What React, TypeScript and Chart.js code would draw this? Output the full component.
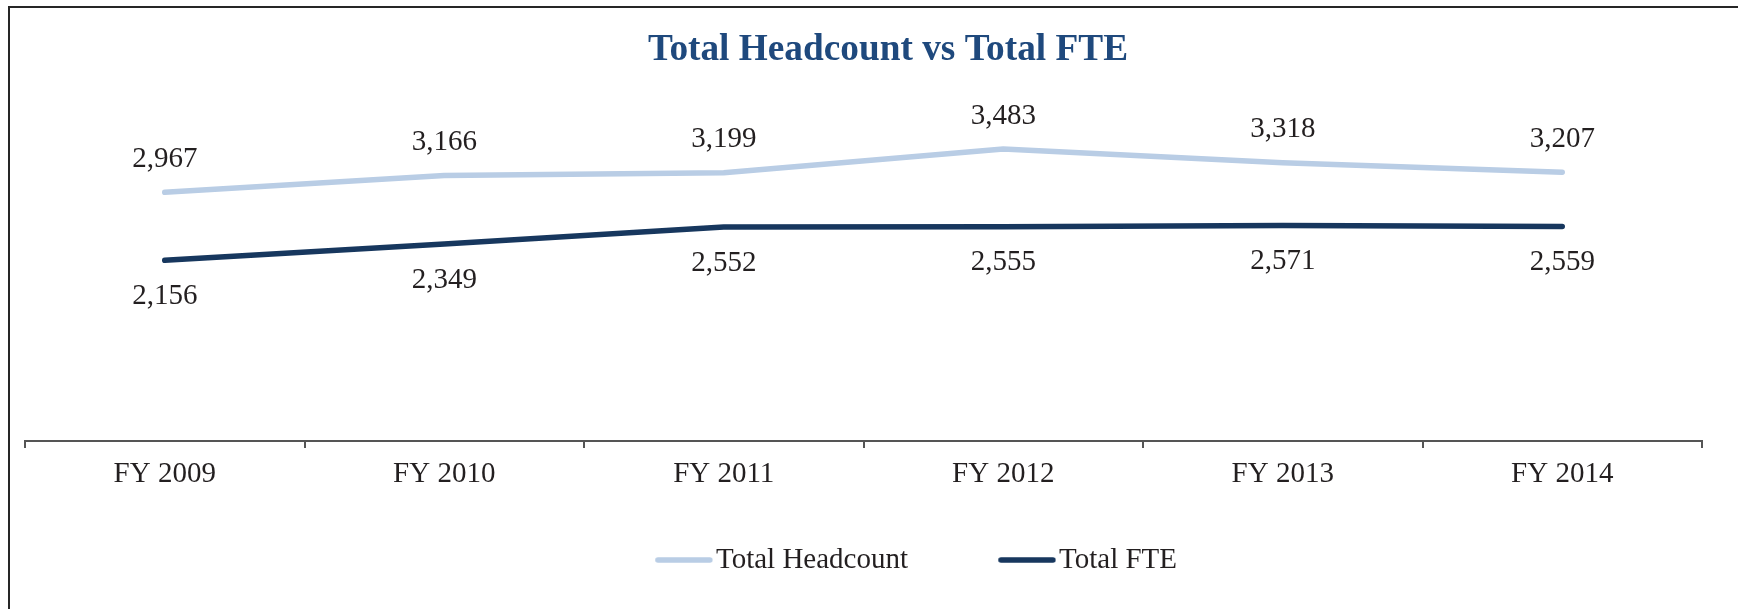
import React, { useEffect, useRef } from "react";
import { Chart, registerables } from "chart.js";

Chart.register(...registerables);

const categories = ["FY 2009", "FY 2010", "FY 2011", "FY 2012", "FY 2013", "FY 2014"];
const headcount = [2967, 3166, 3199, 3483, 3318, 3207];
const fte = [2156, 2349, 2552, 2555, 2571, 2559];
const seriesNames = ["Total Headcount", "Total FTE"];
const seriesColors = ["#B9CDE5", "#17375E"];
const titleText = "Total Headcount vs Total FTE";
const yMin = 0;
const yMax = 4000;

const FONT = "'Liberation Serif', 'Times New Roman', Times, serif";
const TEXT = "#231F20";
const AXIS = "#555555";
const LABEL_OFFSETS = [-33, 36];

function makeLegendLine(color: string): HTMLCanvasElement {
  const c = document.createElement("canvas");
  c.width = 126;
  c.height = 10;
  const g = c.getContext("2d")!;
  g.strokeStyle = color;
  g.lineWidth = 5.5;
  g.lineCap = "round";
  g.beginPath();
  g.moveTo(70.7, 5);
  g.lineTo(122.7, 5);
  g.stroke();
  return c;
}

const valueLabels = {
  id: "valueLabels",
  afterDatasetsDraw(chart: any) {
    const ctx = chart.ctx;
    ctx.save();
    ctx.font = `29px ${FONT}`;
    ctx.fillStyle = TEXT;
    ctx.textAlign = "center";
    ctx.textBaseline = "middle";
    chart.data.datasets.forEach((ds: any, di: number) => {
      const meta = chart.getDatasetMeta(di);
      meta.data.forEach((pt: any, i: number) => {
        ctx.fillText(Number(ds.data[i]).toLocaleString("en-US"), pt.x, pt.y + LABEL_OFFSETS[di]);
      });
    });
    ctx.restore();
  },
};

export default function App() {
  const ref = useRef<HTMLCanvasElement>(null);

  useEffect(() => {
    if (!ref.current) return;
    const chart = new Chart(ref.current, {
      type: "line",
      data: {
        labels: categories,
        datasets: [headcount, fte].map((d, i) => ({
          label: seriesNames[i],
          data: d,
          borderColor: seriesColors[i],
          backgroundColor: seriesColors[i],
          borderWidth: 5.5,
          borderCapStyle: "round",
          borderJoinStyle: "round",
          tension: 0,
          pointRadius: 0,
          pointHoverRadius: 0,
          pointStyle: makeLegendLine(seriesColors[i]),
          fill: false,
        })),
      },
      options: {
        responsive: false,
        animation: false,
        layout: { padding: { left: 25, right: 0, top: 0, bottom: 24.5 } },
        scales: {
          x: {
            type: "category",
            offset: true,
            grid: {
              display: true,
              drawOnChartArea: false,
              drawTicks: true,
              tickLength: 7,
              color: AXIS,
              lineWidth: 2,
              offset: true,
            },
            border: { display: true, color: AXIS, width: 2 },
            ticks: {
              color: TEXT,
              padding: 8.6,
              maxRotation: 0,
              font: { family: FONT, size: 29, lineHeight: 1.2 },
            },
          },
          y: {
            display: false,
            min: yMin,
            max: yMax,
          },
          y2: {
            type: "linear",
            position: "right",
            display: true,
            grid: { display: false },
            border: { display: false },
            ticks: { display: false },
            afterFit: (s: any) => {
              s.width = 49;
            },
          },
        },
        plugins: {
          title: {
            display: true,
            text: titleText,
            color: "#1F497D",
            font: { family: FONT, size: 37.3, weight: "bold", lineHeight: 1.2 },
            padding: { top: 28.4, bottom: 32.5 },
          },
          legend: {
            display: true,
            position: "bottom",
            align: "center",
            title: {
              display: true,
              text: "",
              font: { size: 1, lineHeight: 1 },
              padding: { top: 0, bottom: 10.5 },
            },
            labels: {
              usePointStyle: true,
              pointStyleWidth: 102.5,
              padding: 34,
              color: TEXT,
              font: { family: FONT, size: 29 },
            },
          },
          tooltip: { enabled: false },
        },
      },
      plugins: [valueLabels],
    });
    return () => chart.destroy();
  }, []);

  return (
    <>
      <div
        style={{
          position: "fixed",
          left: 0,
          top: 0,
          width: 1738,
          height: 609,
          overflow: "hidden",
          background: "#fff",
        }}
      >
        <canvas ref={ref} width={1751} height={609} style={{ display: "block" }} />
      </div>
      <div
        style={{
          position: "fixed",
          left: 8,
          top: 6,
          width: 2000,
          height: 2000,
          borderLeft: "2px solid #262626",
          borderTop: "2px solid #262626",
          pointerEvents: "none",
        }}
      />
    </>
  );
}
